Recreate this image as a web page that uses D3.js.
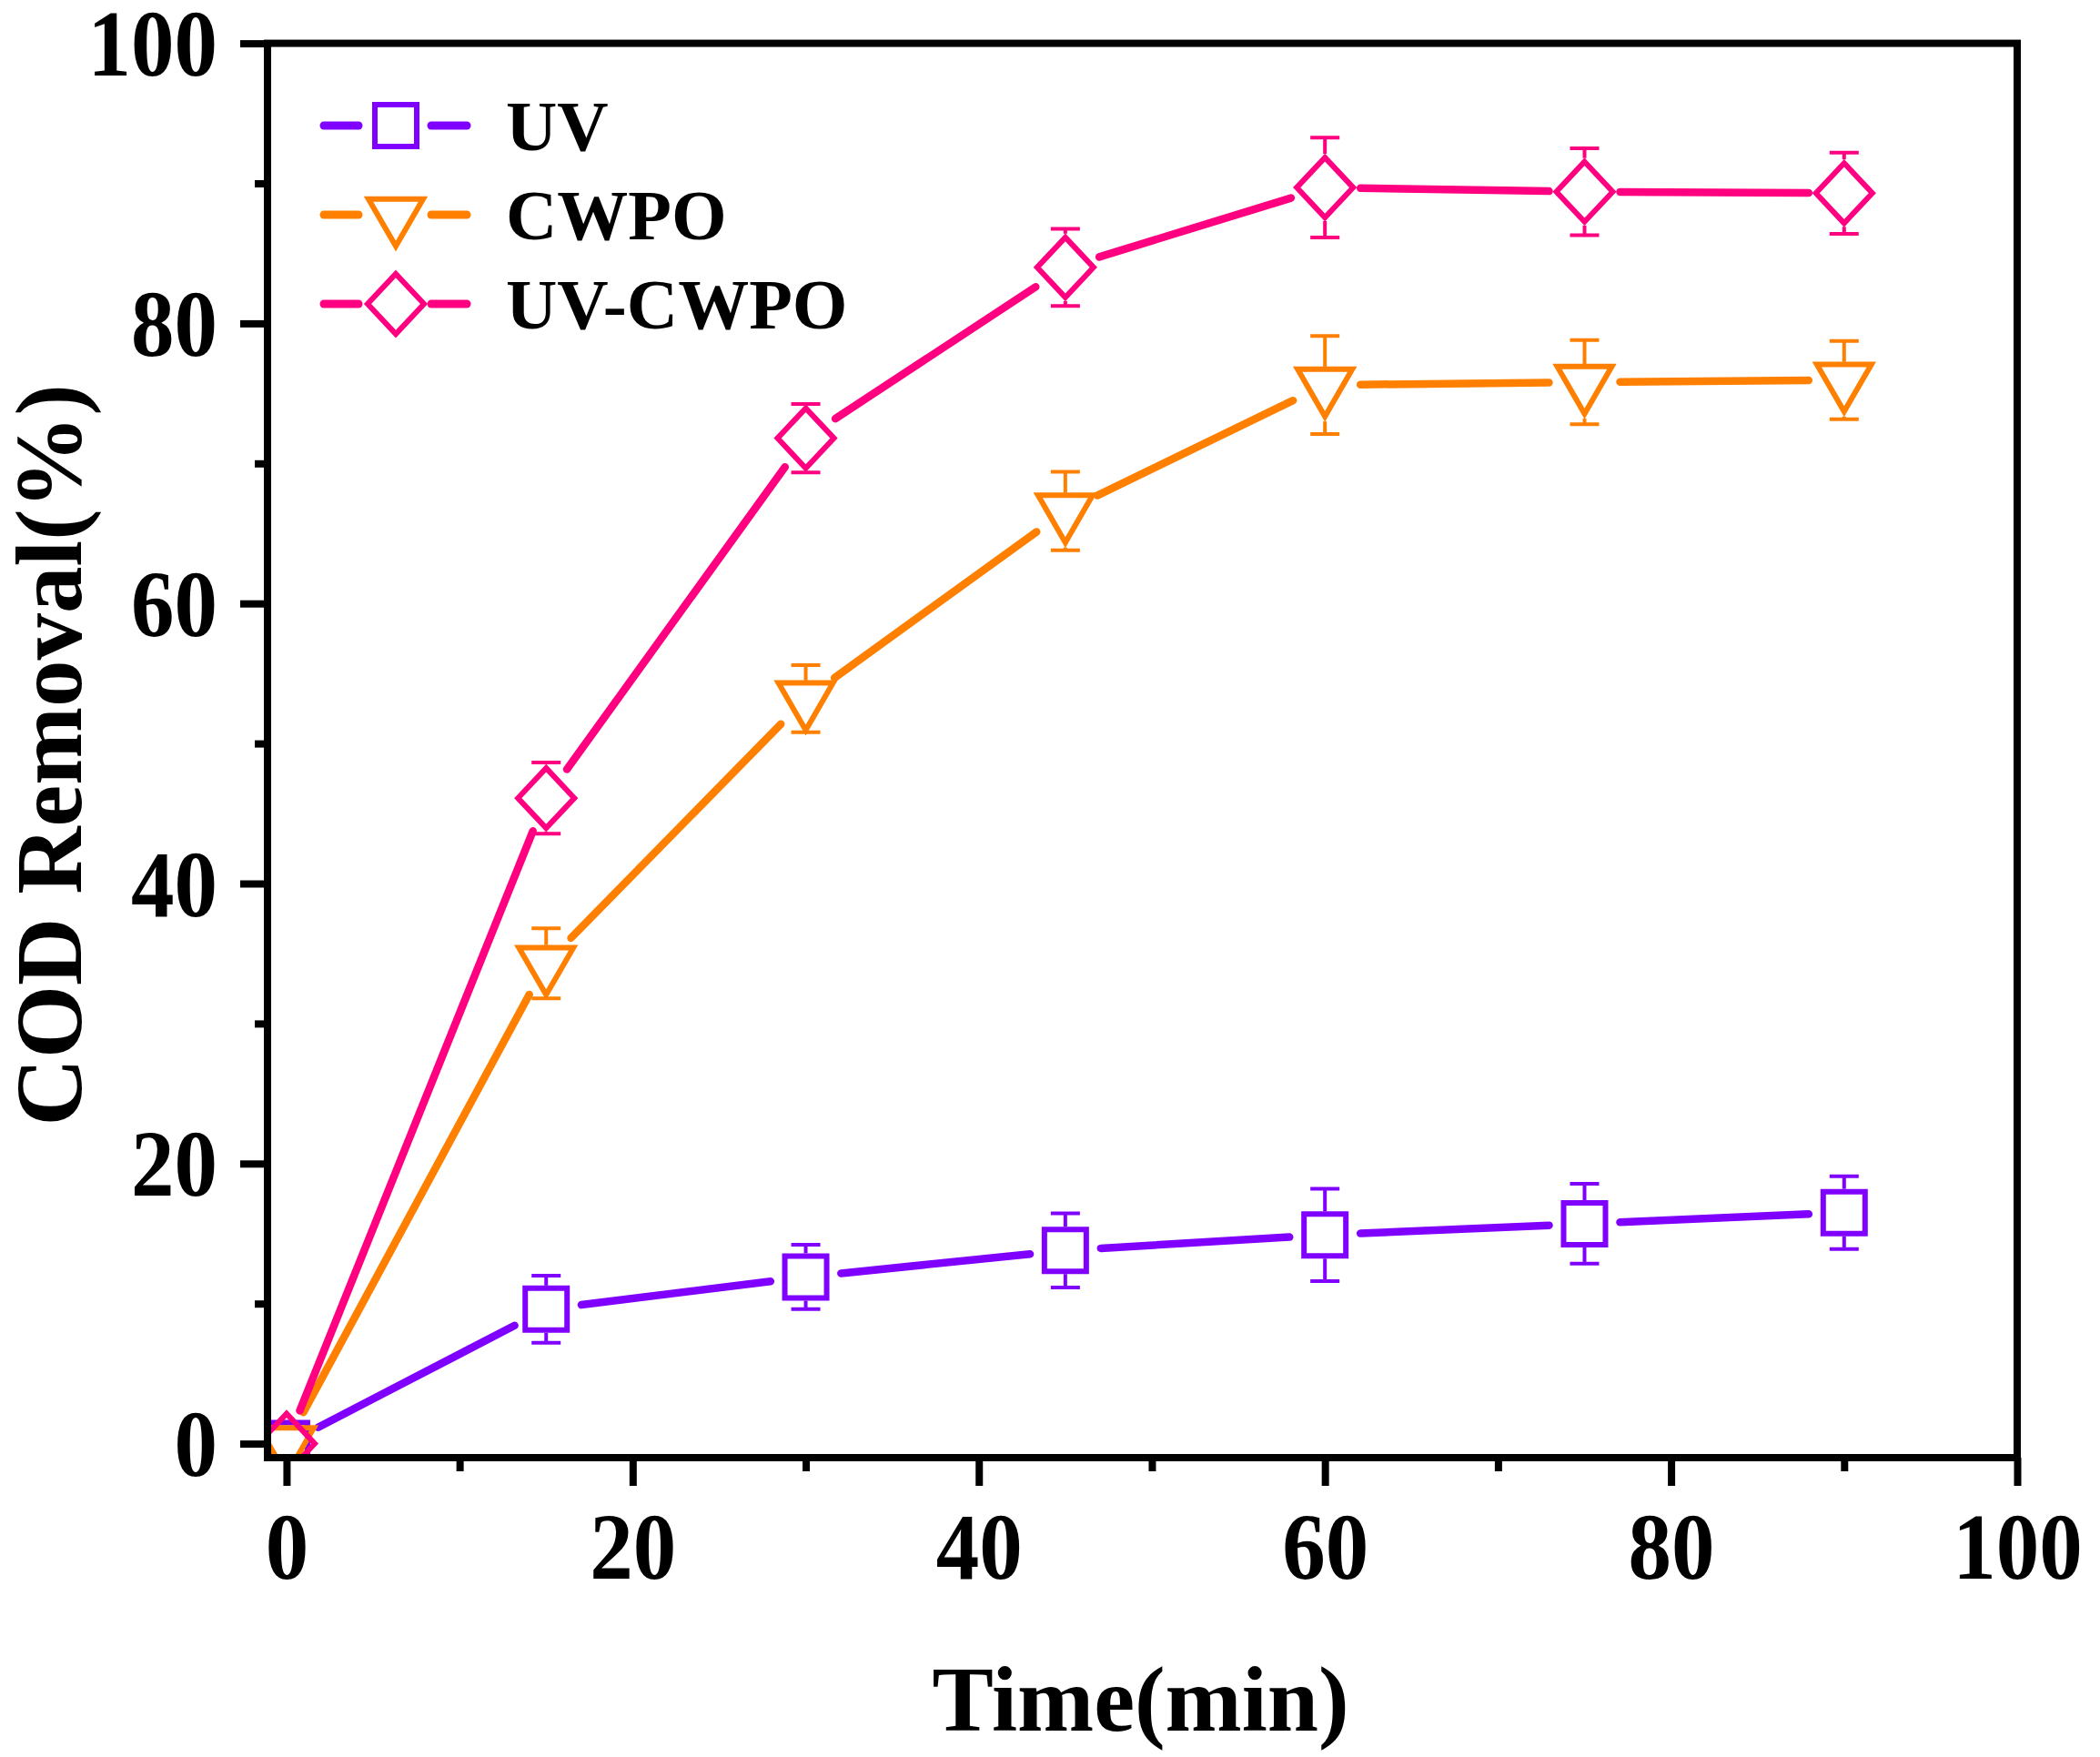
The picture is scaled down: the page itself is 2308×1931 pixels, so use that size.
<!DOCTYPE html>
<html lang="en">
<head>
<meta charset="UTF-8">
<title>COD Removal vs Time</title>
<script src="https://d3js.org/d3.v7.min.js"></script>
<style>
  body { margin: 0; background: #fff; }
  text { font-family: "Liberation Serif", "Times New Roman", serif; font-weight: bold; fill: #000; }
</style>
</head>
<body>
<svg id="chart" width="2308" height="1931"></svg>
<script>
// data
const times = [0, 15, 30, 45, 60, 75, 90];
const uvVals = [0, 9.6, 11.9, 13.8, 14.9, 15.7, 16.5];
const uvErr = [0, 2.4, 2.3, 2.65, 3.3, 2.85, 2.6];
const cwpoVals = [0, 34.3, 53.2, 66.6, 75.6, 75.8, 75.95];
const cwpoErr = [0, 2.5, 2.4, 2.8, 3.5, 3.0, 2.8];
const uvcwpoVals = [0, 46.1, 71.8, 84.0, 89.7, 89.4, 89.3];
const uvcwpoErr = [0, 2.55, 2.45, 2.75, 3.57, 3.1, 2.9];

const seriesNames = ["UV", "CWPO", "UV-CWPO"];
const seriesColors = ["#8000ff", "#ff8000", "#ff0080"];
const seriesShapes = ["square", "triangleDown", "diamond"];

const xMajor = [0, 20, 40, 60, 80, 100];
const xMinor = [10, 30, 50, 70, 90];
const yMajor = [0, 20, 40, 60, 80, 100];
const yMinor = [10, 30, 50, 70, 90];

const series = [
  { name: seriesNames[0], vals: uvVals, err: uvErr },
  { name: seriesNames[1], vals: cwpoVals, err: cwpoErr },
  { name: seriesNames[2], vals: uvcwpoVals, err: uvcwpoErr }
];

const svg = d3.select("#chart");
const L = 294, R = 2217, T = 47.6, B = 1602;

const x = d3.scaleLinear().domain([-1.1, 100]).range([L, R]);
const y = d3.scaleLinear().domain([-1, 100]).range([B, T]);

// marker outlines + how far they reach above/below the centre
const shapes = {
  square: { d: "M-23,-23H23V23H-23Z", up: 26, down: 26 },
  triangleDown: { d: "M-30,-17.3L30,-17.3L0,34.6Z", up: 20, down: 40 },
  diamond: { d: "M0,-33L31,0L0,33L-31,0Z", up: 37, down: 37 }
};
const GAP = 39;

svg.append("defs").append("clipPath").attr("id", "plotclip")
  .append("rect").attr("x", L).attr("y", T).attr("width", R - L).attr("height", B - T);

const plot = svg.append("g").attr("clip-path", "url(#plotclip)");
const line = d3.line();

series.forEach((s, i) => {
  const color = seriesColors[i];
  const shape = shapes[seriesShapes[i]];
  const pts = times.map((t, j) => [x(t), y(s.vals[j])]);
  const g = plot.append("g");

  // connecting segments, cut short around each marker
  for (let j = 0; j < pts.length - 1; j++) {
    const [x1, y1] = pts[j], [x2, y2] = pts[j + 1];
    const len = Math.hypot(x2 - x1, y2 - y1);
    const ux = (x2 - x1) / len, uy = (y2 - y1) / len;
    g.append("path")
      .attr("d", line([[x1 + ux * GAP, y1 + uy * GAP], [x2 - ux * GAP, y2 - uy * GAP]]))
      .attr("fill", "none").attr("stroke", color)
      .attr("stroke-width", 8.5).attr("stroke-linecap", "round");
  }

  // error bars
  times.forEach((t, j) => {
    const e = s.err[j];
    if (!e) return;
    const cx = x(t), cy = y(s.vals[j]);
    const yt = y(s.vals[j] + e), yb = y(s.vals[j] - e);
    const eb = g.append("g").attr("stroke", color).attr("stroke-width", 4);
    if (cy - shape.up > yt) eb.append("line").attr("x1", cx).attr("x2", cx).attr("y1", cy - shape.up).attr("y2", yt);
    if (cy + shape.down < yb) eb.append("line").attr("x1", cx).attr("x2", cx).attr("y1", cy + shape.down).attr("y2", yb);
    eb.append("line").attr("x1", cx - 16).attr("x2", cx + 16).attr("y1", yt).attr("y2", yt);
    eb.append("line").attr("x1", cx - 16).attr("x2", cx + 16).attr("y1", yb).attr("y2", yb);
  });

  g.selectAll("path.mk").data(pts).join("path")
    .attr("class", "mk")
    .attr("d", shape.d)
    .attr("transform", d => `translate(${d[0]},${d[1]})`)
    .attr("fill", "none").attr("stroke", color).attr("stroke-width", 6);
});

// axes
function styleAxis(g) {
  g.select(".domain").remove();
  g.selectAll(".tick line").attr("stroke", "#000").attr("stroke-width", 8);
}

const xAxisG = svg.append("g").attr("transform", `translate(0,${B})`);
xAxisG.append("g").call(d3.axisBottom(x).tickValues(xMinor).tickSize(15).tickFormat("")).call(styleAxis);
xAxisG.append("g").call(d3.axisBottom(x).tickValues(xMajor).tickSize(31)).call(styleAxis)
  .selectAll(".tick text")
  .attr("y", 0).attr("dy", 0)
  .attr("transform", "translate(0,133) scale(1,1.1)")
  .attr("font-size", 95).attr("fill", "#000");

const yAxisG = svg.append("g").attr("transform", `translate(${L},0)`);
yAxisG.append("g").call(d3.axisLeft(y).tickValues(yMinor).tickSize(14).tickFormat("")).call(styleAxis);
yAxisG.append("g").call(d3.axisLeft(y).tickValues(yMajor).tickSize(30)).call(styleAxis)
  .selectAll(".tick text")
  .attr("x", 0).attr("dy", 0)
  .attr("transform", "translate(-55,35) scale(1,1.1)")
  .attr("font-size", 95).attr("fill", "#000");

// frame
svg.append("rect")
  .attr("x", L).attr("y", T).attr("width", R - L).attr("height", B - T)
  .attr("fill", "none").attr("stroke", "#000").attr("stroke-width", 8);

// axis titles
svg.append("text")
  .attr("x", (L + R) / 2 - 2).attr("y", 1902)
  .attr("text-anchor", "middle").attr("font-size", 101)
  .text("Time(min)");

svg.append("text")
  .attr("transform", `translate(89,${(T + B) / 2 + 5}) rotate(-90)`)
  .attr("text-anchor", "middle").attr("font-size", 103)
  .text("COD Removal(%)");

// legend
const legend = svg.append("g");
series.forEach((s, i) => {
  const ly = 138 + i * 98;
  const color = seriesColors[i];
  const row = legend.append("g");
  row.append("line").attr("x1", 356).attr("x2", 394).attr("y1", ly).attr("y2", ly)
    .attr("stroke", color).attr("stroke-width", 9).attr("stroke-linecap", "round");
  row.append("line").attr("x1", 474).attr("x2", 513).attr("y1", ly).attr("y2", ly)
    .attr("stroke", color).attr("stroke-width", 9).attr("stroke-linecap", "round");
  row.append("path").attr("d", shapes[seriesShapes[i]].d)
    .attr("transform", `translate(435,${ly})`)
    .attr("fill", "none").attr("stroke", color).attr("stroke-width", 6);
  row.append("text").attr("x", 556).attr("y", ly + 27)
    .attr("font-size", 78).text(s.name);
});
</script>
</body>
</html>
